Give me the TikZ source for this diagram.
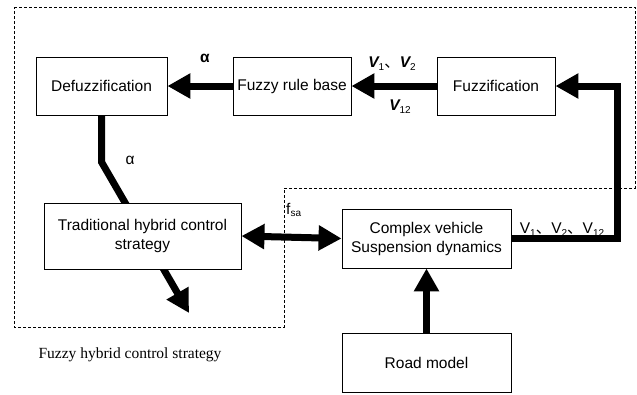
\documentclass[tikz,border=0pt]{standalone}
\usepackage{fontspec}
\setmainfont{Liberation Sans}
\newfontfamily\serifface{Liberation Serif}
\newfontfamily\cjk{Noto Sans CJK SC}
\usetikzlibrary{arrows.meta}
\pgfdeclarelayer{bg}
\pgfsetlayers{bg,main}
\newcommand{\lowsub}[1]{\raisebox{-0.35ex}{\fontsize{10}{12}\selectfont #1}}
\newcommand{\dun}{{\cjk 、}}
\tikzset{
  blk/.style={draw, line width=0.9pt, fill=white, inner sep=2pt, align=center},
  flow/.style={line width=7pt, line join=miter, -{Triangle[length=23pt,width=24pt]}},
  biflow/.style={line width=7pt, {Triangle[length=23pt,width=24pt]}-{Triangle[length=23pt,width=24pt]}},
  lbl/.style={inner sep=0pt},
  region/.style={dashed, line width=0.7pt, dash pattern=on 3pt off 2pt}
}
\begin{document}
\begin{tikzpicture}[x=1pt,y=-1pt,font=\fontsize{15.5}{19}\selectfont]
\useasboundingbox (0,0) rectangle (637,394);
% boxes
\node[blk, minimum width=131pt, minimum height=58pt] (defuzz) at (101.5,86) {Defuzzification};
\node[blk, minimum width=118pt, minimum height=58pt] (rule) at (292,86) {Fuzzy rule base};
\node[blk, minimum width=118pt, minimum height=58pt] (fuzz) at (496,86) {Fuzzification};
\node[blk, minimum width=197pt, minimum height=66pt] (trad) at (142.5,236) {Traditional hybrid control\\strategy};
\node[blk, minimum width=169pt, minimum height=59pt] (veh) at (426.5,238.5) {Complex vehicle\\Suspension dynamics};
\node[blk, minimum width=169pt, minimum height=59pt] (road) at (426.5,363) {Road model};
% coordinates
\coordinate (bend1) at (101.5,162);
\coordinate (tip) at (189,313);
\coordinate (fbA) at (617,238.5);
\coordinate (fbB) at (617,86);
\begin{pgfonlayer}{bg}
\draw[region] (14,7) -- (635,7) -- (635,188) -- (284,188) -- (284,327) -- (14,327) -- cycle;
\draw[flow] (defuzz.south) -- (bend1) -- (tip);
\end{pgfonlayer}
% connectors
\draw[flow] (rule.west) -- (defuzz.east);
\draw[flow] (fuzz.west) -- (rule.east);
\draw[flow] (veh.east) -- (fbA) -- (fbB) -- (fuzz.east);
\draw[biflow] (trad.east) -- (veh.west);
\draw[flow] (road.north) -- (veh.south);
% labels
\node[lbl] (alphaTop) at (205,58) {\bfseries α};
\node[lbl] (alphaLow) at (130,160) {α};
\node[lbl] (vab) at (392,64) {{\bfseries\itshape V}\lowsub{1}\dun{\bfseries\itshape V}\lowsub{2}};
\node[lbl] (vc) at (400,107) {{\bfseries\itshape V}\lowsub{12}};
\node[lbl] (vout) at (562,230) {V\lowsub{1}\dun V\lowsub{2}\dun V\lowsub{12}};
\node[lbl, anchor=west] (fsa) at (286,210) {f\lowsub{sa}};
\node[lbl] (caption) at (130,355) {\serifface Fuzzy hybrid control strategy};
\end{tikzpicture}
\end{document}
